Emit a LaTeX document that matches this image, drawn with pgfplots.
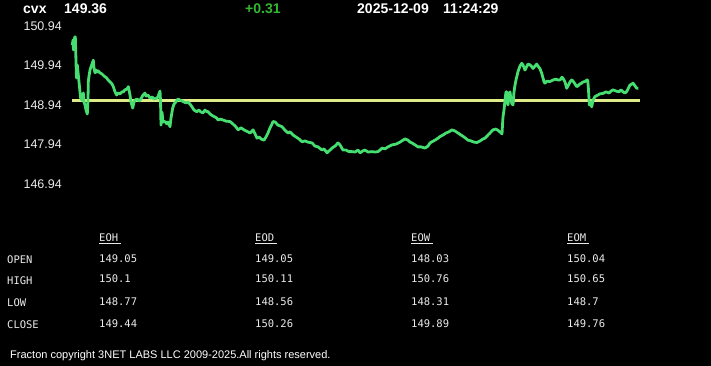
\documentclass[border=0pt]{standalone}
\usepackage{fontspec}
\setmainfont{Liberation Sans}
\newfontfamily\mono{DejaVu Sans Mono}
\usepackage{pgfplots}
\usepackage{pgfplotstable}
\pgfplotsset{compat=1.18}
\definecolor{lg}{RGB}{70,222,112}
\definecolor{yl}{RGB}{222,235,135}
\definecolor{chg}{RGB}{50,185,50}
\definecolor{tx}{RGB}{235,235,235}
\pgfplotstableread{
x y
72.3 150.45
73 150.58
73.5 150.33
74 150.48
74.7 150.65
75.3 150.66
75.7 150.33
76 150.02
76.5 149.62
77.3 149.95
78 149.77
79 149.52
80 149.27
80.5 149.11
81 149.19
81.7 149.06
82.5 149.14
83.3 149.24
84 149.01
85 148.94
86 148.81
87.3 148.71
88 149.06
88.3 149.52
89 149.67
90 149.82
91 149.90
92 149.97
93.3 150.07
94 149.87
95 149.75
96 149.82
97 149.77
98 149.80
100 149.75
102 149.72
104 149.67
106.7 149.62
108 149.57
110 149.52
112 149.47
113.3 149.40
115 149.27
116.7 149.19
118 149.24
120 149.22
122 149.27
123.3 149.27
125 149.32
127 149.34
128.3 149.40
129 149.32
130 149.19
131 149.01
132.7 148.86
134 149.01
135 149.06
137 149.09
139 149.04
140 149.06
142 149.14
143 149.19
145 149.24
146 149.16
148 149.19
150 149.11
152 149.14
154 149.09
156.7 149.11
158 149.14
159 149.22
160 149.29
160.5 149.06
161 148.43
162 148.76
163 148.51
165 148.52
167 148.46
168 148.51
170 148.39
171 148.61
172.7 148.86
174 148.96
176.7 149.04
178 149.09
180 149.06
182 149.04
183.3 149.02
186 148.99
188 149.01
190 148.96
192 148.89
194 148.81
196.7 148.77
199 148.81
201 148.76
203 148.74
205 148.81
206.7 148.77
208 148.77
210 148.71
213 148.66
216.7 148.61
218 148.56
220 148.58
223 148.56
226 148.53
230 148.52
232 148.48
235 148.41
236.7 148.36
238 148.31
241 148.36
244 148.31
248 148.26
250 148.23
252 148.28
253 148.31
255 148.21
257 148.10
259 148.13
261 148.08
264 148.05
266 148.13
268 148.23
270 148.36
272 148.46
273 148.52
275 148.51
278 148.43
282 148.39
284 148.33
286 148.28
288 148.23
290 148.26
293 148.18
296 148.13
299 148.08
302 148.01
305 148.03
308 148.00
312 147.98
315 147.90
318 147.88
322 147.80
324 147.83
327 147.73
330 147.80
332 147.85
335 147.90
338 147.98
340 147.93
343 147.80
346 147.80
349 147.76
352 147.76
355 147.75
358 147.80
360 147.73
363 147.78
365 147.80
368 147.75
372 147.76
375 147.75
378 147.76
380 147.80
382 147.85
385 147.83
388 147.88
392 147.93
396 147.95
400 148.00
403 148.05
405 148.08
408 148.05
410 148.00
412 147.98
415 147.93
418 147.88
421 147.88
425 147.85
428 147.90
430 147.98
432 148.01
435 148.05
438 148.10
440 148.14
443 148.18
446 148.23
449 148.26
452 148.31
455 148.28
458 148.23
461 148.18
464 148.13
468 148.05
471 148.03
474 148.00
477 147.99
480 148.03
483 148.08
485 148.10
488 148.18
490 148.23
493 148.31
496 148.33
499 148.28
501 148.23
502 148.21
502.5 148.43
503 148.64
504 148.81
505 149.06
506 149.27
506.7 149.27
507 149.06
508 148.94
509 149.19
510 149.27
511 149.06
512 148.96
513 148.94
514 149.27
515 149.44
516 149.57
518 149.78
519 149.85
520 149.92
521.7 149.99
523 149.95
525 149.82
527 149.92
528 149.97
530 149.95
532 149.90
533 149.86
535 149.92
536.7 149.97
538 149.92
540 149.85
541.7 149.74
543 149.62
544 149.52
545 149.49
547 149.54
550 149.53
553 149.57
556 149.59
558 149.57
560 149.57
562 149.64
563 149.61
565 149.52
566.7 149.36
568 149.42
570 149.52
571.7 149.57
573 149.54
575 149.47
576.7 149.40
578 149.42
580 149.47
581.7 149.49
583 149.52
585 149.53
587 149.57
587.7 149.57
588.5 149.32
589.3 148.94
590 149.01
591.7 148.89
593 149.06
595 149.15
598 149.19
600 149.22
603 149.23
606 149.27
609 149.24
611 149.29
613 149.32
616 149.29
619 149.27
621 149.32
623 149.27
625 149.24
627 149.29
630 149.44
632 149.47
633 149.49
635 149.42
636.7 149.36
638.3 149.36
}\pricedata
\begin{document}
\begin{tikzpicture}[x=1pt,y=1pt]
\fill[black] (0,0) rectangle (711,366);
\begin{axis}[at={(0,0)},anchor=south west,
  width=711pt,height=366pt,scale only axis,
  xmin=0,xmax=711,ymin=142.347,ymax=151.589,
  hide axis]
\addplot[yl,line width=2.1pt] coordinates {(72,149.05) (640,149.05)};
\addplot[lg,line width=2.8pt,line join=round] table[x=x,y=y]{\pricedata};
\node[anchor=east,inner sep=0pt,text=tx,font=\fontsize{12.5}{14}\selectfont] at (axis cs:62,146.94) {146.94};
\node[anchor=east,inner sep=0pt,text=tx,font=\fontsize{12.5}{14}\selectfont] at (axis cs:62,147.94) {147.94};
\node[anchor=east,inner sep=0pt,text=tx,font=\fontsize{12.5}{14}\selectfont] at (axis cs:62,148.94) {148.94};
\node[anchor=east,inner sep=0pt,text=tx,font=\fontsize{12.5}{14}\selectfont] at (axis cs:62,149.94) {149.94};
\node[anchor=east,inner sep=0pt,text=tx,font=\fontsize{12.5}{14}\selectfont] at (axis cs:62,150.94) {150.94};
\end{axis}
% header
\begin{scope}[every node/.style={inner sep=0pt,anchor=base west}]
\node[text=white,font=\fontsize{14}{16}\selectfont\bfseries] at (23,352) {cvx};
\node[text=white,font=\fontsize{14}{16}\selectfont\bfseries] at (64,352) {149.36};
\node[text=chg,font=\fontsize{14}{16}\selectfont\bfseries] at (245,352) {+0.31};
\node[text=white,font=\fontsize{14}{16}\selectfont\bfseries] at (357,352) {2025-12-09};
\node[text=white,font=\fontsize{14}{16}\selectfont\bfseries] at (443,352) {11:24:29};
% table
\foreach \cx/\h in {99/EOH,255/EOD,411/EOW,567/EOM}{
  \node[text=tx,font=\mono\fontsize{10.5}{12}\selectfont] at (\cx,124) {\h};
  \draw[tx,line width=0.9pt] (\cx,122.5) -- (\cx+22,122.5);
}
\node[text=tx,font=\mono\fontsize{10.5}{12}\selectfont] at (7,102.3) {OPEN};
\node[text=tx,font=\mono\fontsize{10.5}{12}\selectfont] at (7,81.3) {HIGH};
\node[text=tx,font=\mono\fontsize{10.5}{12}\selectfont] at (7,59) {LOW};
\node[text=tx,font=\mono\fontsize{10.5}{12}\selectfont] at (7,37) {CLOSE};
\foreach \cx/\a/\b/\c/\d in {99/149.05/150.1/148.77/149.44,255/149.05/150.11/148.56/150.26,411/148.03/150.76/148.31/149.89,567/150.04/150.65/148.7/149.76}{
  \node[text=tx,font=\mono\fontsize{10.5}{12}\selectfont] at (\cx,103.7) {\a};
  \node[text=tx,font=\mono\fontsize{10.5}{12}\selectfont] at (\cx,83) {\b};
  \node[text=tx,font=\mono\fontsize{10.5}{12}\selectfont] at (\cx,60.3) {\c};
  \node[text=tx,font=\mono\fontsize{10.5}{12}\selectfont] at (\cx,38.7) {\d};
}
% footer
\node[text=white,font=\fontsize{11}{13}\selectfont] at (10,7) {Fracton copyright 3NET LABS LLC 2009-2025.All rights reserved.};
\end{scope}
\end{tikzpicture}
\end{document}
